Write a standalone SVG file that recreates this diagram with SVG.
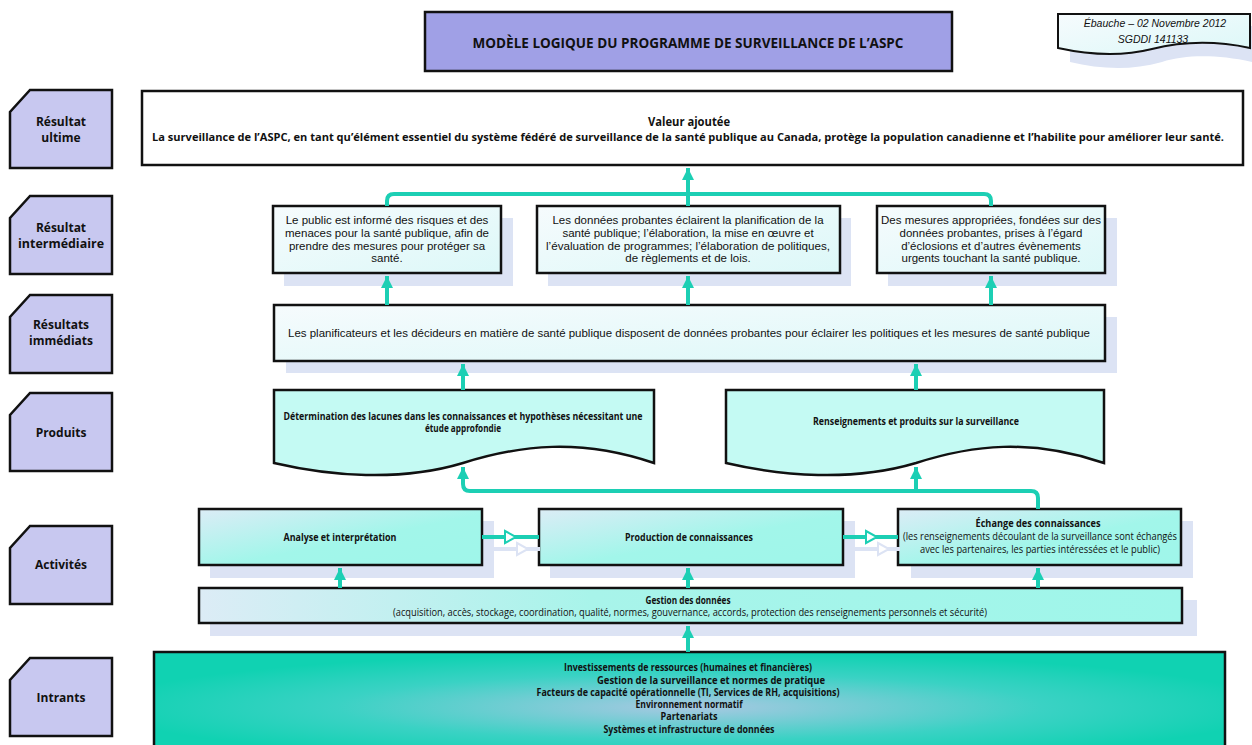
<svg xmlns="http://www.w3.org/2000/svg" width="1252" height="745" viewBox="0 0 1252 745">
<defs>
<style>
.lbl{fill:#c8c8f0;stroke:#111;stroke-width:2.5}
.lt{font-family:"Open Sans","Liberation Sans",sans-serif;font-weight:bold;font-size:12px;fill:#111;text-anchor:middle;dominant-baseline:central}
.cal{font-family:"Open Sans","Liberation Sans",sans-serif;font-weight:bold;fill:#111;text-anchor:middle;dominant-baseline:central;font-size:10px}
.reg{font-weight:normal}
.ar{font-family:"Liberation Sans",Arial,sans-serif;fill:#111;text-anchor:middle;dominant-baseline:central;font-size:11.5px}
.box{stroke:#111;stroke-width:2.5}
.sh{fill:#dce3f4}
.con{fill:none;stroke:#1ccfb4;stroke-width:4}
.shc{fill:none;stroke:#dce3f4;stroke-width:4}
</style>
<linearGradient id="gAct" x1="0" y1="0" x2="1" y2="1">
<stop offset="0" stop-color="#dcecf6"/><stop offset="0.55" stop-color="#a2f6ea"/><stop offset="1" stop-color="#9ff6ea"/>
</linearGradient>
<linearGradient id="gGes" x1="0" y1="0" x2="1" y2="0">
<stop offset="0" stop-color="#dcecf6"/><stop offset="0.4" stop-color="#a8f4ea"/><stop offset="1" stop-color="#9ff6ea"/>
</linearGradient>
<linearGradient id="gLight" x1="0" y1="0" x2="1" y2="1">
<stop offset="0" stop-color="#f6fbfd"/><stop offset="1" stop-color="#dcf8f8"/>
</linearGradient>
<radialGradient id="gIn" cx="0.5" cy="0.55" r="0.55">
<stop offset="0" stop-color="#a9c8e2"/><stop offset="0.6" stop-color="#3ad2c4"/><stop offset="1" stop-color="#10d2b2"/>
</radialGradient>
<marker id="ah" markerUnits="userSpaceOnUse" markerWidth="14" markerHeight="12" refX="12" refY="6" orient="auto">
<path d="M0,0 L12,6 L0,12 Z" fill="#1ccfb4"/>
</marker>
</defs>

<!-- Title -->
<g id="title">
<rect x="425" y="12" width="527" height="59" fill="#a0a0e6" class="box"/>
<text x="688" y="42" class="lt" style="font-size:14px" textLength="431" lengthAdjust="spacingAndGlyphs">MODÈLE LOGIQUE DU PROGRAMME DE SURVEILLANCE DE L’ASPC</text>
</g>

<!-- Date note -->
<g id="date">
<path d="M1070,26 H1252 V62 C1215,54 1185,55 1162,62 C1130,71 1100,69 1070,62 Z" class="sh"/>
<path d="M1058,14 H1250 V48 C1212,40 1180,42 1152,49 C1120,57 1090,55 1058,48 Z" fill="url(#gLight)" stroke="#111" stroke-width="2"/>
<text x="1155" y="23" class="ar" style="font-size:10.5px;font-style:italic">Ébauche – 02 Novembre 2012</text>
<text x="1153" y="39" class="ar" style="font-size:10.5px;font-style:italic">SGDDI 141133</text>
</g>

<!-- Left labels -->
<g id="lbl-ultime"><path d="M30,90 H112 V168 H10 V112 Z" class="lbl"/><text x="61" y="121" class="lt">Résultat</text><text x="61" y="137" class="lt">ultime</text></g>
<g id="lbl-inter"><path d="M30,196 H112 V274 H10 V218 Z" class="lbl"/><text x="61" y="227" class="lt">Résultat</text><text x="61" y="243" class="lt" textLength="86" lengthAdjust="spacingAndGlyphs">intermédiaire</text></g>
<g id="lbl-imm"><path d="M30,295 H112 V373 H10 V317 Z" class="lbl"/><text x="61" y="324" class="lt">Résultats</text><text x="61" y="340" class="lt">immédiats</text></g>
<g id="lbl-prod"><path d="M30,393 H112 V471 H10 V415 Z" class="lbl"/><text x="61" y="432" class="lt">Produits</text></g>
<g id="lbl-act"><path d="M30,526 H112 V604 H10 V548 Z" class="lbl"/><text x="61" y="564" class="lt">Activités</text></g>
<g id="lbl-intr"><path d="M30,658 H112 V736 H10 V680 Z" class="lbl"/><text x="61" y="697" class="lt">Intrants</text></g>

<!-- Valeur ajoutée -->
<g id="valeur">
<rect x="142" y="91" width="1101" height="74" fill="#fff" class="box"/>
<text x="689" y="121" class="cal" style="font-size:12px" textLength="82" lengthAdjust="spacingAndGlyphs">Valeur ajoutée</text>
<text x="688" y="137" class="cal" style="font-size:10.5px" textLength="1072" lengthAdjust="spacingAndGlyphs">La surveillance de l’ASPC, en tant qu’élément essentiel du système fédéré de surveillance de la santé publique au Canada, protège la population canadienne et l’habilite pour améliorer leur santé.</text>
</g>

<!-- Intermediate -->
<g id="inter1">
<rect x="284" y="218" width="229" height="68" class="sh"/>
<rect x="273" y="206" width="228" height="67" fill="url(#gLight)" class="box"/>
<text x="387" y="220" class="ar">Le public est informé des risques et des</text>
<text x="387" y="233" class="ar">menaces pour la santé publique, afin de</text>
<text x="387" y="246" class="ar">prendre des mesures pour protéger sa</text>
<text x="387" y="258" class="ar">santé.</text>
</g>
<g id="inter2">
<rect x="548" y="218" width="303" height="68" class="sh"/>
<rect x="537" y="206" width="303" height="67" fill="url(#gLight)" class="box"/>
<text x="688" y="220" class="ar">Les données probantes éclairent la planification de la</text>
<text x="688" y="233" class="ar">santé publique; l’élaboration, la mise en œuvre et</text>
<text x="688" y="246" class="ar" textLength="284" lengthAdjust="spacingAndGlyphs">l’évaluation de programmes; l’élaboration de politiques,</text>
<text x="688" y="258" class="ar">de règlements et de lois.</text>
</g>
<g id="inter3">
<rect x="888" y="218" width="229" height="68" class="sh"/>
<rect x="877" y="206" width="228" height="67" fill="url(#gLight)" class="box"/>
<text x="991" y="220" class="ar">Des mesures appropriées, fondées sur des</text>
<text x="991" y="233" class="ar">données probantes, prises à l’égard</text>
<text x="991" y="246" class="ar">d’éclosions et d’autres évènements</text>
<text x="991" y="258" class="ar">urgents touchant la santé publique.</text>
</g>

<!-- Immediate -->
<g id="immediat">
<rect x="286" y="317" width="831" height="56" class="sh"/>
<rect x="274" y="305" width="831" height="56" fill="url(#gLight)" class="box"/>
<text x="689" y="333" class="ar" style="font-size:10.5px" textLength="802" lengthAdjust="spacingAndGlyphs">Les planificateurs et les décideurs en matière de santé publique disposent de données probantes pour éclairer les politiques et les mesures de santé publique</text>
</g>

<!-- Products -->
<g id="prod1">
<path d="M274,390 H654 V463 C580,438 520,445 463,463 C400,482 330,476 274,463 Z" fill="#c4faf3" stroke="#111" stroke-width="2.5"/>
<text x="463" y="416" class="cal" textLength="359" lengthAdjust="spacingAndGlyphs">Détermination des lacunes dans les connaissances et hypothèses nécessitant une</text>
<text x="463" y="428" class="cal" textLength="76" lengthAdjust="spacingAndGlyphs">étude approfondie</text>
</g>
<g id="prod2">
<path d="M726,390 H1104 V463 C1030,438 972,445 916,463 C852,482 782,476 726,463 Z" fill="#c4faf3" stroke="#111" stroke-width="2.5"/>
<text x="916" y="421" class="cal" textLength="206" lengthAdjust="spacingAndGlyphs">Renseignements et produits sur la surveillance</text>
</g>

<!-- Activities -->
<g id="act1">
<rect x="210" y="521" width="284" height="57" class="sh"/>
<rect x="199" y="509" width="283" height="56" fill="url(#gAct)" class="box"/>
<text x="340" y="537" class="cal" textLength="113" lengthAdjust="spacingAndGlyphs">Analyse et interprétation</text>
</g>
<g id="act2">
<rect x="550" y="521" width="305" height="57" class="sh"/>
<rect x="539" y="509" width="304" height="56" fill="url(#gAct)" class="box"/>
<text x="689" y="537" class="cal" textLength="128" lengthAdjust="spacingAndGlyphs">Production de connaissances</text>
</g>
<g id="act3">
<rect x="911" y="521" width="282" height="57" class="sh"/>
<rect x="898" y="509" width="283" height="56" fill="url(#gAct)" class="box"/>
<text x="1038" y="523" class="cal" textLength="125" lengthAdjust="spacingAndGlyphs">Échange des connaissances</text>
<text x="1040" y="536" class="cal reg" textLength="274" lengthAdjust="spacingAndGlyphs">(les renseignements découlant de la surveillance sont échangés</text>
<text x="1040" y="549" class="cal reg" textLength="240" lengthAdjust="spacingAndGlyphs">avec les partenaires, les parties intéressées et le public)</text>
</g>

<!-- Gestion -->
<g id="gestion">
<rect x="210" y="600" width="987" height="36" class="sh"/>
<rect x="199" y="588" width="983" height="35" fill="url(#gGes)" class="box"/>
<text x="688" y="600" class="cal" textLength="85" lengthAdjust="spacingAndGlyphs">Gestion des données</text>
<text x="690" y="612" class="cal reg" textLength="594" lengthAdjust="spacingAndGlyphs">(acquisition, accès, stockage, coordination, qualité, normes, gouvernance, accords, protection des renseignements personnels et sécurité)</text>
</g>

<!-- Intrants -->
<g id="intrants">
<rect x="154" y="652" width="1071" height="100" fill="url(#gIn)" class="box"/>
<text x="688" y="667" class="cal" textLength="248" lengthAdjust="spacingAndGlyphs">Investissements de ressources (humaines et financières)</text>
<text x="711" y="680" class="cal" textLength="228" lengthAdjust="spacingAndGlyphs">Gestion de la surveillance et normes de pratique</text>
<text x="688" y="692" class="cal" textLength="303" lengthAdjust="spacingAndGlyphs">Facteurs de capacité opérationnelle (TI, Services de RH, acquisitions)</text>
<text x="689" y="704" class="cal" textLength="107" lengthAdjust="spacingAndGlyphs">Environnement normatif</text>
<text x="689" y="716" class="cal" textLength="57" lengthAdjust="spacingAndGlyphs">Partenariats</text>
<text x="689" y="729" class="cal" textLength="171" lengthAdjust="spacingAndGlyphs">Systèmes et infrastructure de données</text>
</g>

<!-- Connectors -->
<g id="connectors">
<path class="con" d="M688,206 V168" marker-end="url(#ah)"/>
<path class="con" d="M387,206 V201 Q387,194 394,194 H984 Q991,194 991,201 V206"/>
<path class="con" d="M387,305 V276" marker-end="url(#ah)"/>
<path class="con" d="M688,305 V276" marker-end="url(#ah)"/>
<path class="con" d="M991,305 V276" marker-end="url(#ah)"/>
<path class="con" d="M463,390 V364" marker-end="url(#ah)"/>
<path class="con" d="M916,390 V364" marker-end="url(#ah)"/>
<path class="con" d="M1038,509 V498 Q1038,491 1031,491 H470 Q463,491 463,484 V467" marker-end="url(#ah)"/>
<path class="con" d="M916,491 V467" marker-end="url(#ah)"/>
<path class="con" d="M340,588 V568" marker-end="url(#ah)"/>
<path class="con" d="M688,588 V568" marker-end="url(#ah)"/>
<path class="con" d="M1038,588 V568" marker-end="url(#ah)"/>
<path class="con" d="M688,652 V626" marker-end="url(#ah)"/>
<path class="shc" d="M494,549 H540"/>
<polygon points="517,543 528,549 517,555" fill="#fff" stroke="#dce3f4" stroke-width="2"/>
<path class="shc" d="M855,549 H900"/>
<polygon points="878,543 889,549 878,555" fill="#fff" stroke="#dce3f4" stroke-width="2"/>
<path class="con" d="M482,537 H539"/>
<polygon points="505,531 516,537 505,543" fill="#fff" stroke="#1ccfb4" stroke-width="2"/>
<path class="con" d="M843,537 H898"/>
<polygon points="866,531 877,537 866,543" fill="#fff" stroke="#1ccfb4" stroke-width="2"/>
</g>
</svg>
